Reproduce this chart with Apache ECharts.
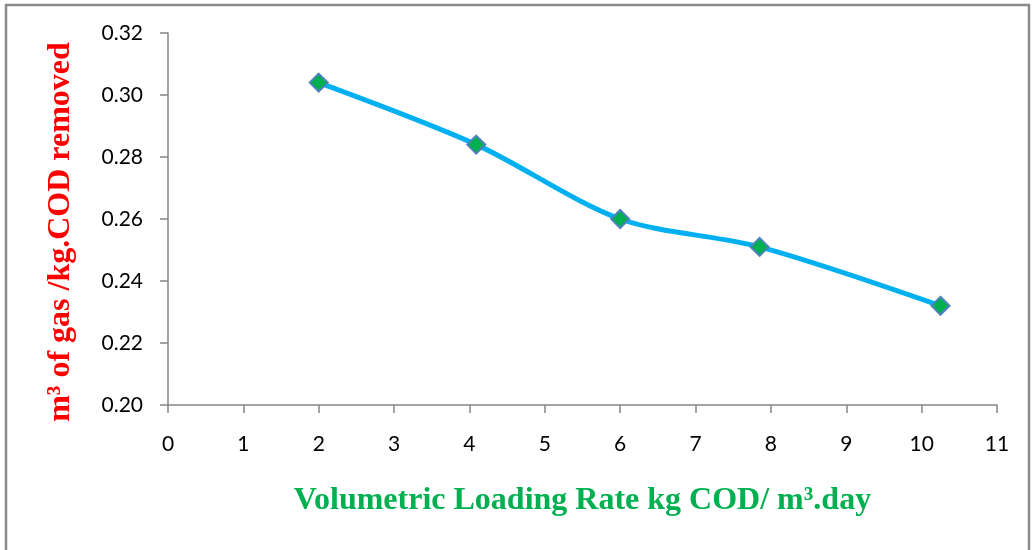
<!DOCTYPE html>
<html>
<head>
<meta charset="utf-8">
<script src="https://cdn.jsdelivr.net/npm/echarts@6/dist/echarts.min.js"></script>
<style>html,body{margin:0;padding:0;background:#fff}#c{width:1032px;height:550px}</style>
</head>
<body>
<div id="c"></div>
<script>
const loadingRate = [2.0, 4.09, 6.0, 7.85, 10.25];
const gasYield = [0.304, 0.284, 0.260, 0.251, 0.232];
const xTitle = 'Volumetric Loading Rate kg COD/ m³.day';
const yTitle = 'm³ of gas /kg.COD removed';

const chart = echarts.init(document.getElementById('c'));
chart.setOption({
  animation: false,
  backgroundColor: '#fff',
  graphic: [{
    type: 'rect', shape: {x: 6, y: 5, width: 1023, height: 560},
    style: {fill: 'none', stroke: '#8a8a8a', lineWidth: 2.5}, silent: true
  }, {
    type: 'text', x: 61, y: 232, rotation: Math.PI / 2, silent: true,
    style: {text: yTitle, fill: '#FF0000', font: 'bold 32px "Liberation Serif"',
      align: 'center', verticalAlign: 'middle'}
  }],
  grid: {left: 168, right: 35, top: 33, bottom: 145},
  xAxis: {
    type: 'value', min: 0, max: 11, interval: 1,
    axisLine: {lineStyle: {color: '#868686', width: 1.5}},
    axisTick: {show: true, length: 8, lineStyle: {color: '#868686', width: 1.5}},
    splitLine: {show: false},
    axisLabel: {color: '#000', fontFamily: 'Lato', fontSize: 21, margin: 29},
    name: xTitle, nameLocation: 'middle', nameGap: 80,
    nameTextStyle: {color: '#00B050', fontFamily: 'Liberation Serif', fontWeight: 'bold', fontSize: 32}
  },
  yAxis: {
    type: 'value', min: 0.20, max: 0.32, interval: 0.02,
    axisLine: {show: true, lineStyle: {color: '#868686', width: 1.5}},
    axisTick: {show: true, length: 8, lineStyle: {color: '#868686', width: 1.5}},
    splitLine: {show: false},
    axisLabel: {color: '#000', fontFamily: 'Lato', fontSize: 21, margin: 25,
      formatter: v => v.toFixed(2)}
  },
  series: [{
    type: 'line', smooth: 0.3,
    data: loadingRate.map((x, i) => [x, gasYield[i]]),
    lineStyle: {color: '#00B0F0', width: 5},
    symbol: 'diamond', symbolSize: 18,
    itemStyle: {color: '#00B050', borderColor: '#4F81BD', borderWidth: 2}
  }]
});
</script>
</body>
</html>
